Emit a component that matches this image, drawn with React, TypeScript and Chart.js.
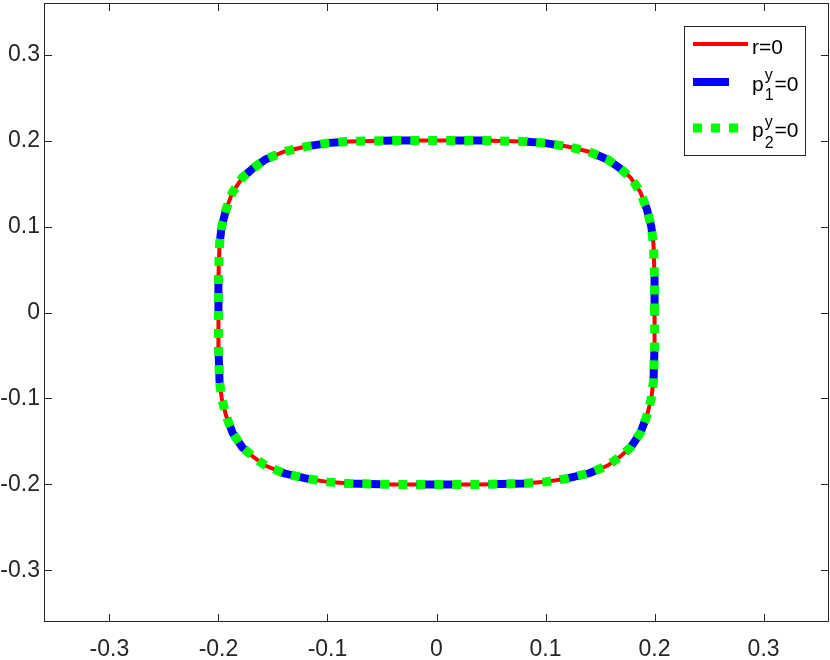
import React, { useEffect, useRef } from "react";
import { Chart, registerables } from "chart.js";

Chart.register(...registerables);

// Closed curve (counter-clockwise from (0.2, 0))
const curveX = [
  0.2, 0.2, 0.199, 0.197, 0.193, 0.187, 0.178, 0.168, 0.157, 0.14, 0.12, 0.1, 0.08, 0.04, 0.0,
  -0.04, -0.08, -0.1, -0.12, -0.14, -0.157, -0.168, -0.178, -0.187, -0.193, -0.197, -0.199, -0.2, -0.2,
  -0.2, -0.199, -0.197, -0.193, -0.187, -0.178, -0.168, -0.157, -0.14, -0.12, -0.1, -0.08, -0.04, 0.0,
  0.04, 0.08, 0.1, 0.12, 0.14, 0.157, 0.168, 0.178, 0.187, 0.193, 0.197, 0.199, 0.2, 0.2,
];
const curveY = [
  0.0, 0.04, 0.08, 0.1, 0.12, 0.14, 0.157, 0.168, 0.178, 0.187, 0.193, 0.197, 0.199, 0.2, 0.2,
  0.2, 0.199, 0.197, 0.193, 0.187, 0.178, 0.168, 0.157, 0.14, 0.12, 0.1, 0.08, 0.04, 0.0,
  -0.04, -0.08, -0.1, -0.12, -0.14, -0.157, -0.168, -0.178, -0.187, -0.193, -0.197, -0.199, -0.2, -0.2,
  -0.2, -0.199, -0.197, -0.193, -0.187, -0.178, -0.168, -0.157, -0.14, -0.12, -0.1, -0.08, -0.04, 0.0,
];

const seriesNames = ["r=0", "p1y=0", "p2y=0"];
const xTicks = [-0.3, -0.2, -0.1, 0, 0.1, 0.2, 0.3];
const xTickLabels = ["-0.3", "-0.2", "-0.1", "0", "0.1", "0.2", "0.3"];
const yTicks = [-0.3, -0.2, -0.1, 0, 0.1, 0.2, 0.3];
const yTickLabels = ["-0.3", "-0.2", "-0.1", "0", "0.1", "0.2", "0.3"];
const axisMin = -0.36;
const axisMax = 0.36;

const FONT = "'Liberation Sans', Arial, Helvetica, sans-serif";
const AXIS_COLOR = "#262626";

const boxPlugin = {
  id: "boxAndTicks",
  afterDraw(chart: any) {
    const { ctx, chartArea } = chart;
    const { left, right, top, bottom } = chartArea;
    const xs = chart.scales.x;
    const ys = chart.scales.y;
    const tl = 8;
    ctx.save();
    ctx.strokeStyle = AXIS_COLOR;
    ctx.lineWidth = 1;
    ctx.setLineDash([]);
    ctx.beginPath();
    for (const v of xTicks) {
      const px = Math.round(xs.getPixelForValue(v)) + 0.5;
      ctx.moveTo(px, bottom);
      ctx.lineTo(px, bottom - tl);
      ctx.moveTo(px, top);
      ctx.lineTo(px, top + tl);
    }
    for (const v of yTicks) {
      const py = Math.round(ys.getPixelForValue(v)) + 0.5;
      ctx.moveTo(left, py);
      ctx.lineTo(left + tl, py);
      ctx.moveTo(right, py);
      ctx.lineTo(right - tl, py);
    }
    ctx.stroke();
    ctx.strokeRect(Math.round(left) + 0.5, Math.round(top) + 0.5, Math.round(right - left) - 1, Math.round(bottom - top) - 1);

    // Legend
    const lx = 684.5, ly = 26.5, lw = 121, lh = 129;
    ctx.fillStyle = "#ffffff";
    ctx.fillRect(lx, ly, lw, lh);
    ctx.strokeStyle = AXIS_COLOR;
    ctx.lineWidth = 1;
    ctx.strokeRect(lx, ly, lw, lh);

    const ds = chart.data.datasets;
    const rowsY = [44, 82, 128];
    for (let i = 0; i < 3; i++) {
      const d = ds[i];
      ctx.beginPath();
      ctx.strokeStyle = d.borderColor;
      ctx.lineWidth = d.borderWidth;
      ctx.lineCap = "butt";
      ctx.setLineDash(d.borderDash || []);
      const x2 = i === 1 ? 729 : i === 2 ? 738 : 748;
      ctx.moveTo(693, rowsY[i]);
      ctx.lineTo(x2, rowsY[i]);
      ctx.stroke();
    }
    ctx.setLineDash([]);
    ctx.fillStyle = "#000000";
    ctx.textBaseline = "alphabetic";
    ctx.textAlign = "left";
    ctx.font = `21px ${FONT}`;
    ctx.fillText(seriesNames[0], 752, 54);

    const drawP = (name: string, base: number, supBase: number, subBase: number) => {
      ctx.font = `21px ${FONT}`;
      ctx.fillText(name.charAt(0), 752, base);
      const pw = ctx.measureText(name.charAt(0)).width;
      ctx.font = `16px ${FONT}`;
      const sup = name.charAt(2);
      const sub = name.charAt(1);
      ctx.fillText(sup, 752 + pw + 1, supBase);
      ctx.fillText(sub, 752 + pw + 1, subBase);
      const w = Math.max(ctx.measureText(sup).width, ctx.measureText(sub).width);
      ctx.font = `21px ${FONT}`;
      ctx.fillText(name.slice(3), 752 + pw + 1 + w + 1, base);
    };
    drawP(seriesNames[1], 91, 80, 100);
    drawP(seriesNames[2], 137, 127, 148);
    ctx.restore();
  },
};

export default function App() {
  const ref = useRef<HTMLCanvasElement | null>(null);
  useEffect(() => {
    if (!ref.current) return;
    const pts = curveX.map((x, i) => ({ x, y: curveY[i] }));
    const chart = new Chart(ref.current, {
      type: "scatter",
      data: {
        datasets: [
          {
            label: seriesNames[0],
            data: pts,
            showLine: true,
            borderColor: "#ff0000",
            borderWidth: 4,
            pointRadius: 0,
            tension: 0,
            order: 3,
          },
          {
            label: seriesNames[1],
            data: pts,
            showLine: true,
            borderColor: "#0000ff",
            borderWidth: 8,
            borderDash: [36, 36],
            borderCapStyle: "butt",
            pointRadius: 0,
            tension: 0,
            order: 2,
          },
          {
            label: seriesNames[2],
            data: pts,
            showLine: true,
            borderColor: "#00ff00",
            borderWidth: 9,
            borderDash: [9, 9],
            borderCapStyle: "butt",
            pointRadius: 0,
            tension: 0,
            order: 1,
          },
        ] as any,
      },
      options: {
        animation: false,
        responsive: false,
        devicePixelRatio: 1,
        layout: { padding: { top: 3, right: 1, left: 0, bottom: 0 } },
        plugins: { legend: { display: false }, tooltip: { enabled: false } },
        scales: {
          x: {
            type: "linear",
            min: axisMin,
            max: axisMax,
            grid: { display: false, drawTicks: false },
            border: { display: false },
            afterBuildTicks: (s: any) => {
              s.ticks = xTicks.map((v) => ({ value: v }));
            },
            afterFit: (s: any) => {
              s.height = 38;
              s.paddingLeft = 0;
              s.paddingRight = 0;
            },
            ticks: {
              autoSkip: false,
              maxRotation: 0,
              padding: 14,
              color: AXIS_COLOR,
              font: { family: FONT, size: 23 },
              callback: (v: any) => {
                const i = xTicks.findIndex((t) => Math.abs(t - Number(v)) < 1e-9);
                return i >= 0 ? xTickLabels[i] : "";
              },
            },
          },
          y: {
            type: "linear",
            min: axisMin,
            max: axisMax,
            grid: { display: false, drawTicks: false },
            border: { display: false },
            afterBuildTicks: (s: any) => {
              s.ticks = yTicks.map((v) => ({ value: v }));
            },
            afterFit: (s: any) => {
              s.width = 44;
              s.paddingTop = 0;
              s.paddingBottom = 0;
            },
            ticks: {
              autoSkip: false,
              padding: 4,
              color: AXIS_COLOR,
              font: { family: FONT, size: 23 },
              callback: (v: any) => {
                const i = yTicks.findIndex((t) => Math.abs(t - Number(v)) < 1e-9);
                return i >= 0 ? yTickLabels[i] : "";
              },
            },
          },
        },
      },
      plugins: [boxPlugin],
    });
    return () => chart.destroy();
  }, []);
  return (
    <div style={{ position: "absolute", left: 0, top: 0, width: 830, height: 660, background: "#fff" }}>
      <canvas ref={ref} width={830} height={660} style={{ display: "block" }} />
    </div>
  );
}
